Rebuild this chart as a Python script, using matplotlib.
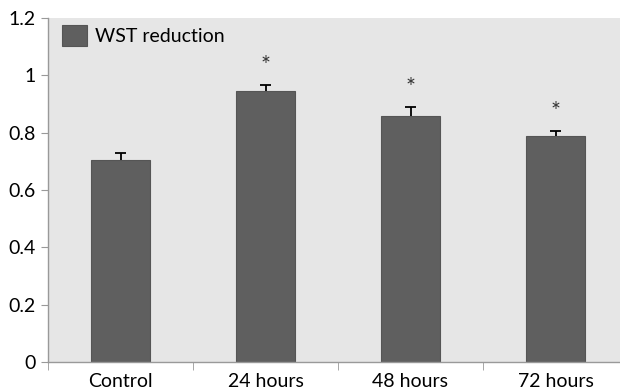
import matplotlib.pyplot as plt
import numpy as np

categories = ["Control", "24 hours", "48 hours", "72 hours"]
values = [0.703, 0.946, 0.859, 0.788]
errors = [0.025, 0.02, 0.03, 0.017]
signif = [False, True, True, True]

plt.rcParams['font.family'] = ['Lato', 'DejaVu Sans']

fig = plt.figure(figsize=(6.2, 3.92), dpi=100)
ax = fig.add_axes([48/620, 1-362/392, 580/620, 344/392])
ax.set_facecolor('#e6e6e6')

x = np.arange(len(categories))
tops = np.array(values) + np.array(errors)
ax.bar(x, values, width=0.41, color='#5f5f5f', edgecolor='#555555', linewidth=0.8,
       label='WST reduction', zorder=2)
# upper error bars only
ax.vlines(x, values, tops, color='black', linewidth=1.3, zorder=3)
ax.hlines(tops, x - 0.04, x + 0.04, color='black', linewidth=1.3, zorder=3)
for xi, t, s in zip(x, tops, signif):
    if s:
        ax.text(xi, t + 0.07, '*', ha='center', va='center', fontsize=17, color='#333333')

ax.set_xlim(-0.5, 3.5)
ax.set_ylim(0, 1.2)
ax.set_yticks([0, 0.2, 0.4, 0.6, 0.8, 1.0, 1.2])
ax.set_yticklabels(['0', '0.2', '0.4', '0.6', '0.8', '1', '1.2'])
ax.set_xticks(x)
ax.set_xticklabels(categories)
ax.set_xticks(np.arange(-0.5, 3.6, 1), minor=True)
ax.tick_params(axis='x', which='major', length=0, labelsize=14, pad=8)
ax.tick_params(axis='x', which='minor', length=6, color='#999999', direction='out')
ax.tick_params(axis='y', length=5, color='#999999', labelsize=14, pad=4)

for sp in ['top', 'right']:
    ax.spines[sp].set_visible(False)
for sp in ['left', 'bottom']:
    ax.spines[sp].set_color('#999999')
    ax.spines[sp].set_linewidth(1)

ax.legend(loc='upper left', bbox_to_anchor=(0.0, 1.02), frameon=False, fontsize=14,
          handlelength=1.3, handleheight=1.3, handletextpad=0.4, borderaxespad=0.3)

fig.savefig('out.png', dpi=100)
